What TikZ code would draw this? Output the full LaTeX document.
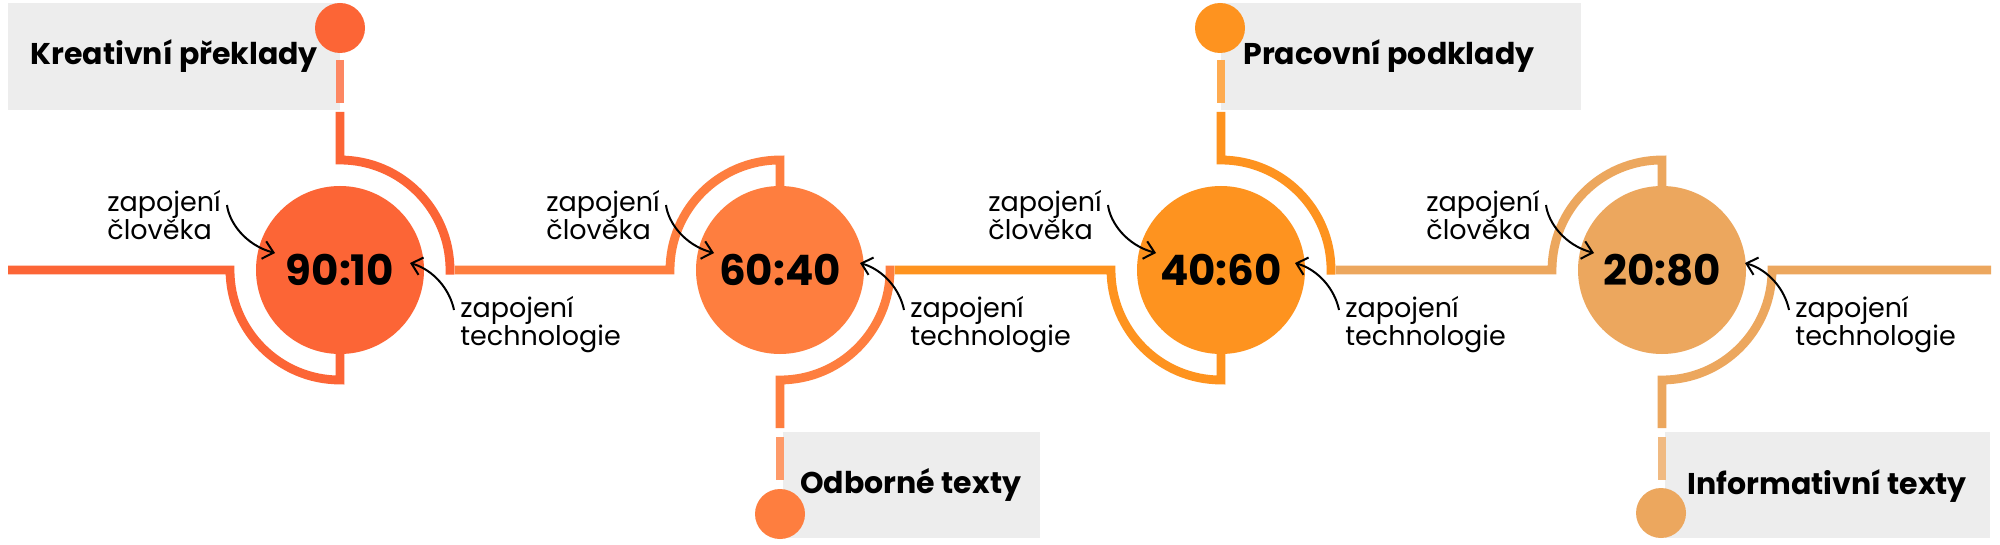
\documentclass[tikz,border=0pt]{standalone}
\usepackage{fontspec}
\setmainfont{Poppins}
\usetikzlibrary{arrows.meta}
\definecolor{cA}{HTML}{FC6536}
\definecolor{cB}{HTML}{FE7E3F}
\definecolor{cC}{HTML}{FE931F}
\definecolor{cD}{HTML}{ECA75E}
\definecolor{boxgray}{HTML}{EDEDED}
\begin{document}
\begin{tikzpicture}[x=0.5pt,y=-0.5pt,
  track/.style={line width=4.4pt, line join=miter, line cap=butt},
  faint/.style={line width=4.2pt, line cap=butt},
  ratio/.style={circle, minimum size=84pt, inner sep=0pt, font=\bfseries\fontsize{21}{24}\selectfont},
  dot/.style={circle, minimum size=25pt, inner sep=0pt},
  graybox/.style={fill=boxgray},
  tag/.style={anchor=base west, inner sep=0pt, font=\bfseries\fontsize{15}{18}\selectfont},
  note/.style={anchor=base west, inner sep=0pt, font=\fontsize{13.5}{16}\selectfont},
  hand/.style={line width=1pt, -{Straight Barb[length=5pt,width=9pt]}}
]
\useasboundingbox[fill=white] (0,0) rectangle (2000,545);

% gray boxes
\fill[graybox] (8,3) rectangle (340,110);
\fill[graybox] (1221,3) rectangle (1581,110);
\fill[graybox] (783,432) rectangle (1040,538);
\fill[graybox] (1665,432) rectangle (1990,538);

% track
\draw[track, cA] (8,270) -- (230,270) arc[start angle=180, end angle=270, radius=55pt] -- (340,354);
\draw[track, cA] (340,112) -- (340,160) arc[start angle=90, end angle=0, radius=55pt] -- (450,274.5);
\draw[track, cB] (454.5,270) -- (670,270) arc[start angle=180, end angle=90, radius=55pt] -- (780,186);
\draw[track, cB] (890,265.5) -- (890,270) arc[start angle=0, end angle=-90, radius=55pt] -- (780,428);
\draw[track, cC] (894.5,270) -- (1111,270) arc[start angle=180, end angle=270, radius=55pt] -- (1221,354);
\draw[track, cC] (1221,112) -- (1221,160) arc[start angle=90, end angle=0, radius=55pt] -- (1331,274.5);
\draw[track, cD] (1335.5,270) -- (1552,270) arc[start angle=180, end angle=90, radius=55pt] -- (1662,186);
\draw[track, cD] (1991,270) -- (1772,270) arc[start angle=0, end angle=-90, radius=55pt] -- (1662,428);

% segments crossing the boxes
\draw[faint, cA!78!white] (340,60) -- (340,103);
\draw[faint, cC!78!white] (1221,60) -- (1221,103);
\draw[faint, cB!78!white] (780,437) -- (780,480);
\draw[faint, cD!78!white] (1662,437) -- (1662,480);

% small dots
\node[dot, fill=cA] (d1) at (340,28) {};
\node[dot, fill=cB] (d2) at (780,514) {};
\node[dot, fill=cC] (d3) at (1220,28) {};
\node[dot, fill=cD] (d4) at (1661,513) {};

% main circles
\node[ratio, fill=cA] (n1) at (340,270) {90:10};
\node[ratio, fill=cB] (n2) at (780,270) {60:40};
\node[ratio, fill=cC] (n3) at (1221,270) {40:60};
\node[ratio, fill=cD] (n4) at (1662,270) {20:80};

% box labels
\node[tag] (t1) at (30,65) {Kreativní překlady};
\node[tag] (t2) at (800,493) {Odborné texty};
\node[tag] (t3) at (1243,65) {Pracovní podklady};
\node[tag] (t4) at (1687,494) {Informativní texty};

% notes
\node[note] (h1a) at (107,212) {zapojení};
\node[note] (h1b) at (107,240) {člověka};
\node[note] (h2a) at (546,212) {zapojení};
\node[note] (h2b) at (546,240) {člověka};
\node[note] (h3a) at (988,212) {zapojení};
\node[note] (h3b) at (988,240) {člověka};
\node[note] (h4a) at (1426,212) {zapojení};
\node[note] (h4b) at (1426,240) {člověka};

\node[note] (m1a) at (460,317) {zapojení};
\node[note] (m1b) at (460,345) {technologie};
\node[note] (m2a) at (910,317) {zapojení};
\node[note] (m2b) at (910,345) {technologie};
\node[note] (m3a) at (1345,317) {zapojení};
\node[note] (m3b) at (1345,345) {technologie};
\node[note] (m4a) at (1795,317) {zapojení};
\node[note] (m4b) at (1795,345) {technologie};

% arrow ends
\coordinate (hs1) at (227,205); \coordinate (he1) at (275,253);
\coordinate (hs2) at (666,205); \coordinate (he2) at (714,253);
\coordinate (hs3) at (1108,205); \coordinate (he3) at (1156,253);
\coordinate (hs4) at (1546,205); \coordinate (he4) at (1594,253);
\coordinate (ms1) at (454,310); \coordinate (me1) at (410,263);
\coordinate (ms2) at (904,310); \coordinate (me2) at (860,263);
\coordinate (ms3) at (1339,310); \coordinate (me3) at (1295,263);
\coordinate (ms4) at (1789,310); \coordinate (me4) at (1745,263);

\draw[hand] (hs1) .. controls (229,222) and (245,245) .. (he1);
\draw[hand] (hs2) .. controls (668,222) and (684,245) .. (he2);
\draw[hand] (hs3) .. controls (1110,222) and (1126,245) .. (he3);
\draw[hand] (hs4) .. controls (1548,222) and (1564,245) .. (he4);
\draw[hand] (ms1) .. controls (450,290) and (434,270) .. (me1);
\draw[hand] (ms2) .. controls (900,290) and (884,270) .. (me2);
\draw[hand] (ms3) .. controls (1335,290) and (1319,270) .. (me3);
\draw[hand] (ms4) .. controls (1785,290) and (1769,270) .. (me4);
\end{tikzpicture}
\end{document}
